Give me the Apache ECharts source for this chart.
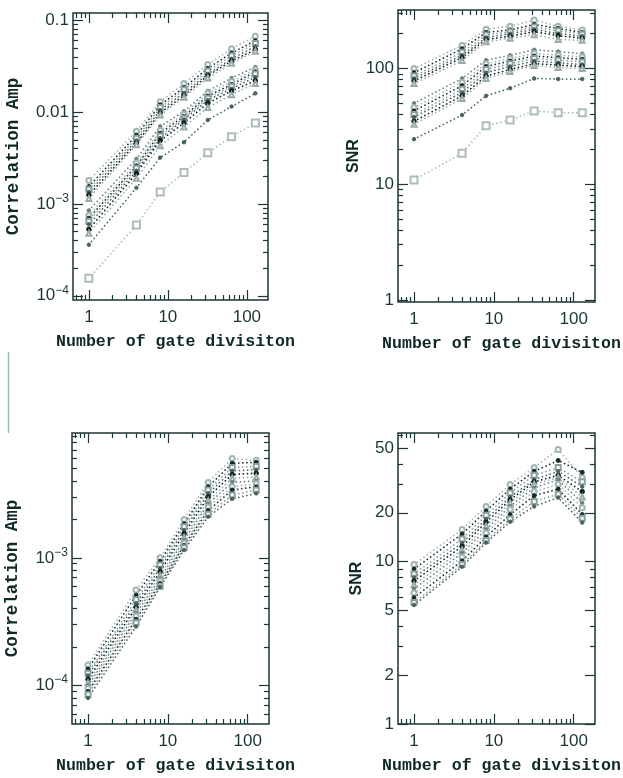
<!DOCTYPE html>
<html>
<head>
<meta charset="utf-8">
<script src="https://cdn.jsdelivr.net/npm/echarts@6.0.0/dist/echarts.min.js"></script>
<style>
  html, body { margin: 0; padding: 0; background: #fff; }
  #chart { width: 623px; height: 778px; }
</style>
</head>
<body>
<div id="chart"></div>
<script>
const gateDivisions = [1, 4, 8, 16, 32, 64, 128];

// upper-left: correlation amplitude (one row per series)
const ampTop = [
  [1.8e-3, 6.2e-3, 1.30e-2, 2.05e-2, 3.3e-2, 4.9e-2, 6.7e-2],
  [1.55e-3, 5.6e-3, 1.20e-2, 1.85e-2, 3.0e-2, 4.4e-2, 6.0e-2],
  [1.45e-3, 5.2e-3, 1.12e-2, 1.75e-2, 2.8e-2, 4.1e-2, 5.6e-2],
  [1.35e-3, 4.9e-3, 1.05e-2, 1.62e-2, 2.6e-2, 3.8e-2, 5.2e-2],
  [1.25e-3, 4.6e-3, 0.98e-2, 1.52e-2, 2.5e-2, 3.6e-2, 4.8e-2],
  [1.15e-3, 4.4e-3, 0.93e-2, 1.45e-2, 2.35e-2, 3.4e-2, 4.6e-2],
  [8.5e-4, 3.1e-3, 7.0e-3, 1.02e-2, 1.7e-2, 2.35e-2, 3.1e-2],
  [7.5e-4, 2.8e-3, 6.3e-3, 9.5e-3, 1.6e-2, 2.15e-2, 2.9e-2],
  [7.0e-4, 2.6e-3, 5.9e-3, 9.0e-3, 1.5e-2, 2.0e-2, 2.75e-2],
  [6.5e-4, 2.45e-3, 5.5e-3, 8.6e-3, 1.42e-2, 1.9e-2, 2.6e-2],
  [6.0e-4, 2.3e-3, 5.2e-3, 8.3e-3, 1.35e-2, 1.8e-2, 2.4e-2],
  [5.3e-4, 2.15e-3, 4.9e-3, 7.6e-3, 1.25e-2, 1.7e-2, 2.2e-2],
  [4.8e-4, 1.9e-3, 4.3e-3, 6.9e-3, 1.12e-2, 1.55e-2, 2.05e-2],
  [3.6e-4, 1.5e-3, 3.2e-3, 4.7e-3, 8.2e-3, 1.15e-2, 1.6e-2],
  [1.55e-4, 5.9e-4, 1.35e-3, 2.2e-3, 3.6e-3, 5.4e-3, 7.6e-3],
];

// upper-right: SNR
const snrTop = [
  [100, 158, 218, 232, 262, 232, 215],
  [92, 148, 205, 215, 240, 222, 205],
  [86, 138, 195, 208, 228, 212, 198],
  [82, 130, 185, 200, 218, 200, 190],
  [78, 124, 178, 190, 208, 192, 182],
  [74, 117, 170, 182, 196, 178, 175],
  [50, 82, 118, 130, 145, 140, 134],
  [46, 76, 110, 122, 135, 130, 126],
  [43, 71, 104, 116, 128, 124, 120],
  [40, 66, 98, 110, 122, 118, 114],
  [38, 62, 92, 104, 116, 112, 108],
  [35, 58, 86, 98, 110, 107, 104],
  [33, 55, 82, 94, 106, 102, 100],
  [24.5, 39.6, 58, 67.5, 82, 81, 81],
  [10.9, 18.5, 32, 35.8, 42.9, 41.5, 41.5],
];

// lower-left: correlation amplitude
const ampBottom = [
  [1.45e-4, 5.6e-4, 1.0e-3, 2.0e-3, 3.9e-3, 6.0e-3, 5.8e-3],
  [1.35e-4, 5.1e-4, 9.4e-4, 1.85e-3, 3.6e-3, 5.5e-3, 5.6e-3],
  [1.25e-4, 4.7e-4, 8.8e-4, 1.75e-3, 3.4e-3, 5.1e-3, 5.2e-3],
  [1.2e-4, 4.4e-4, 8.3e-4, 1.65e-3, 3.2e-3, 4.8e-3, 4.9e-3],
  [1.12e-4, 4.1e-4, 7.8e-4, 1.55e-3, 3.0e-3, 4.5e-3, 4.6e-3],
  [1.05e-4, 3.9e-4, 7.3e-4, 1.45e-3, 2.8e-3, 4.2e-3, 4.3e-3],
  [1.0e-4, 3.7e-4, 6.9e-4, 1.38e-3, 2.65e-3, 3.9e-3, 4.0e-3],
  [9.5e-5, 3.5e-4, 6.6e-4, 1.3e-3, 2.5e-3, 3.6e-3, 3.8e-3],
  [9.0e-5, 3.3e-4, 6.3e-4, 1.25e-3, 2.35e-3, 3.4e-3, 3.6e-3],
  [8.5e-5, 3.1e-4, 6.0e-4, 1.2e-3, 2.2e-3, 3.1e-3, 3.4e-3],
  [8.0e-5, 2.9e-4, 5.9e-4, 1.15e-3, 2.1e-3, 2.9e-3, 3.2e-3],
];

// lower-right: SNR
const snrBottom = [
  [9.6, 15.8, 21.9, 29.9, 38, 49, 33],
  [9.0, 14.8, 20.5, 28, 36, 42, 35.5],
  [8.4, 13.8, 19.3, 26.5, 34, 38, 31],
  [8.0, 13.0, 18.3, 25, 32, 36, 29],
  [7.6, 12.4, 17.5, 24, 31, 34, 27],
  [7.2, 11.8, 16.6, 23, 30, 33, 25],
  [6.8, 11.3, 15.8, 22, 28.5, 32, 23],
  [6.4, 10.7, 15.0, 21, 27, 30, 21.5],
  [6.0, 10.1, 14.2, 19.5, 25.5, 28, 19.5],
  [5.6, 9.6, 13.5, 18.3, 23.5, 26, 18.5],
  [5.4, 9.3, 13.1, 17.6, 21.9, 24.8, 17.4],
];

const xTicks = [1, 10, 100];
const ampTicksTop = [1e-4, 1e-3, 1e-2, 1e-1];
const snrTicksTop = [1, 10, 100];
const ampTicksBottom = [1e-4, 1e-3];
const snrTicksBottom = [1, 2, 5, 10, 20, 50];

const lg = Math.log10;
const ink = "#1c3535";
const labelFont = "Liberation Sans";
const titleFont = "Liberation Mono";
const xRange = [0.63, 185];

const looks = [
  { symbol: "emptyCircle", size: 5, color: "#a3b4b4" },
  { symbol: "circle", size: 4, color: "#142a2a" },
  { symbol: "emptyRect", size: 5, color: "#8a9e9e" },
  { symbol: "circle", size: 3.5, color: "#4a6262" },
  { symbol: "circle", size: 4.5, color: "#0c2020" },
  { symbol: "emptyTriangle", size: 5, color: "#9aabab" },
  { symbol: "circle", size: 3.5, color: "#6a8080" },
];
const tailLooks = [
  { symbol: "circle", size: 3.5, color: "#4a6262" },
  { symbol: "emptyRect", size: 7, color: "#adbdbd" },
];

const panels = [
  { box: { left: 73, top: 13, width: 195, height: 287 }, y: [9e-5, 0.12], yTicks: ampTicksTop, yName: "Correlation Amp", yGap: 50, rows: ampTop, kind: "amp", tail: true },
  { box: { left: 398, top: 10, width: 197, height: 292 }, y: [0.96, 320], yTicks: snrTicksTop, yName: "SNR", yGap: 33, rows: snrTop, kind: "snr", tail: true },
  { box: { left: 72, top: 433, width: 197, height: 291 }, y: [5e-5, 9.5e-3], yTicks: ampTicksBottom, yName: "Correlation Amp", yGap: 50, rows: ampBottom, kind: "amp" },
  { box: { left: 398, top: 433, width: 197, height: 291 }, y: [1, 62], yTicks: snrTicksBottom, yName: "SNR", yGap: 33, rows: snrBottom, kind: "snr" },
];

function minorTicks(range, majors) {
  const out = [];
  for (let k = Math.floor(lg(range[0])); k <= Math.ceil(lg(range[1])); k++) {
    for (let m = 1; m <= 9; m++) {
      const v = m * Math.pow(10, k);
      if (v <= range[0] || v >= range[1]) continue;
      if (majors.some((t) => Math.abs(lg(t) - lg(v)) < 1e-6)) continue;
      out.push(v);
    }
  }
  return out;
}

function fmtAmp(v) {
  const e = Math.round(v);
  if (e >= -2) return Math.pow(10, e).toFixed(-e);
  return "{b|10}{s|\u2212" + -e + "}";
}

function fmtPlain(v) {
  return String(Math.round(Math.pow(10, v)));
}

const labelRich = {
  b: { fontFamily: labelFont, fontSize: 17, color: ink, lineHeight: 23 },
  s: { fontFamily: labelFont, fontSize: 12, color: ink, lineHeight: 12, verticalAlign: "top" },
};

// ticks and labels drawn by value axes laid out in log10 space over the same grid
function tickAxis(gi, position, range, values, len, label) {
  const vals = values.map(lg);
  return {
    type: "value",
    gridIndex: gi,
    position,
    min: lg(range[0]),
    max: lg(range[1]),
    axisLine: { show: false, onZero: false },
    splitLine: { show: false },
    axisTick: { show: vals.length > 0, inside: true, length: len, customValues: vals, lineStyle: { color: ink, width: 1.2 } },
    axisLabel: label ? Object.assign({ show: true, customValues: vals }, label) : { show: false },
    ...(label && label.axisName ? label.axisName : {}),
  };
}

const grid = [];
const xAxis = [];
const yAxis = [];
const series = [];

panels.forEach((p, gi) => {
  grid.push(Object.assign({ show: true, borderColor: ink, borderWidth: 1.5, backgroundColor: "transparent" }, p.box));

  const xi = xAxis.length;
  xAxis.push({ type: "log", gridIndex: gi, min: xRange[0], max: xRange[1], show: false, axisLine: { onZero: false } });
  const yi = yAxis.length;
  yAxis.push({ type: "log", gridIndex: gi, min: p.y[0], max: p.y[1], show: false, axisLine: { onZero: false } });

  const xMinor = minorTicks(xRange, xTicks);
  const yMinor = minorTicks(p.y, p.yTicks);

  xAxis.push(tickAxis(gi, "bottom", xRange, xTicks, 10, {
    margin: 9,
    fontFamily: labelFont,
    fontSize: 17,
    color: ink,
    formatter: fmtPlain,
    axisName: {
      name: "Number of gate divisiton",
      nameLocation: "middle",
      nameGap: 33,
      nameTextStyle: { fontFamily: titleFont, fontWeight: "bold", fontSize: 16.6, color: "#0f2828", padding: [0, 0, 0, 10] },
    },
  }));
  xAxis.push(tickAxis(gi, "bottom", xRange, xMinor, 5));
  xAxis.push(tickAxis(gi, "top", xRange, xTicks, 10));
  xAxis.push(tickAxis(gi, "top", xRange, xMinor, 5));

  const nameStyle = p.kind === "amp"
    ? { fontFamily: titleFont, fontWeight: "bold", fontSize: 17.5, color: "#0f2828" }
    : { fontFamily: labelFont, fontWeight: "bold", fontSize: 16, color: "#0f2828" };
  yAxis.push(tickAxis(gi, "left", p.y, p.yTicks, 10, {
    margin: 4,
    fontFamily: labelFont,
    fontSize: 17,
    color: ink,
    formatter: p.kind === "amp" ? fmtAmp : fmtPlain,
    rich: labelRich,
    axisName: { name: p.yName, nameLocation: "middle", nameGap: p.yGap, nameTextStyle: nameStyle },
  }));
  yAxis.push(tickAxis(gi, "left", p.y, yMinor, 5));
  yAxis.push(tickAxis(gi, "right", p.y, p.yTicks, 10));
  yAxis.push(tickAxis(gi, "right", p.y, yMinor, 5));

  p.rows.forEach((row, i) => {
    const look = p.tail && i >= p.rows.length - 2 ? tailLooks[i - (p.rows.length - 2)] : looks[i % looks.length];
    series.push({
      type: "line",
      xAxisIndex: xi,
      yAxisIndex: yi,
      data: gateDivisions.map((g, j) => [g, row[j]]),
      symbol: look.symbol,
      symbolSize: look.size,
      itemStyle: { color: look.color, borderColor: look.color, borderWidth: 1 },
      lineStyle: { color: look.color, width: 1.7, type: [0.1, 4], cap: "round" },
      silent: true,
      emphasis: { disabled: true },
    });
  });
});

const chart = echarts.init(document.getElementById("chart"));
chart.setOption({
  animation: false,
  backgroundColor: "#fff",
  grid,
  xAxis,
  yAxis,
  series,
  graphic: [
    // faint scan mark on the left margin of the page
    { type: "line", shape: { x1: 8.5, y1: 352, x2: 8.5, y2: 433 }, style: { stroke: "#8cc0c0", lineWidth: 1.5 } },
  ],
});
</script>
</body>
</html>
